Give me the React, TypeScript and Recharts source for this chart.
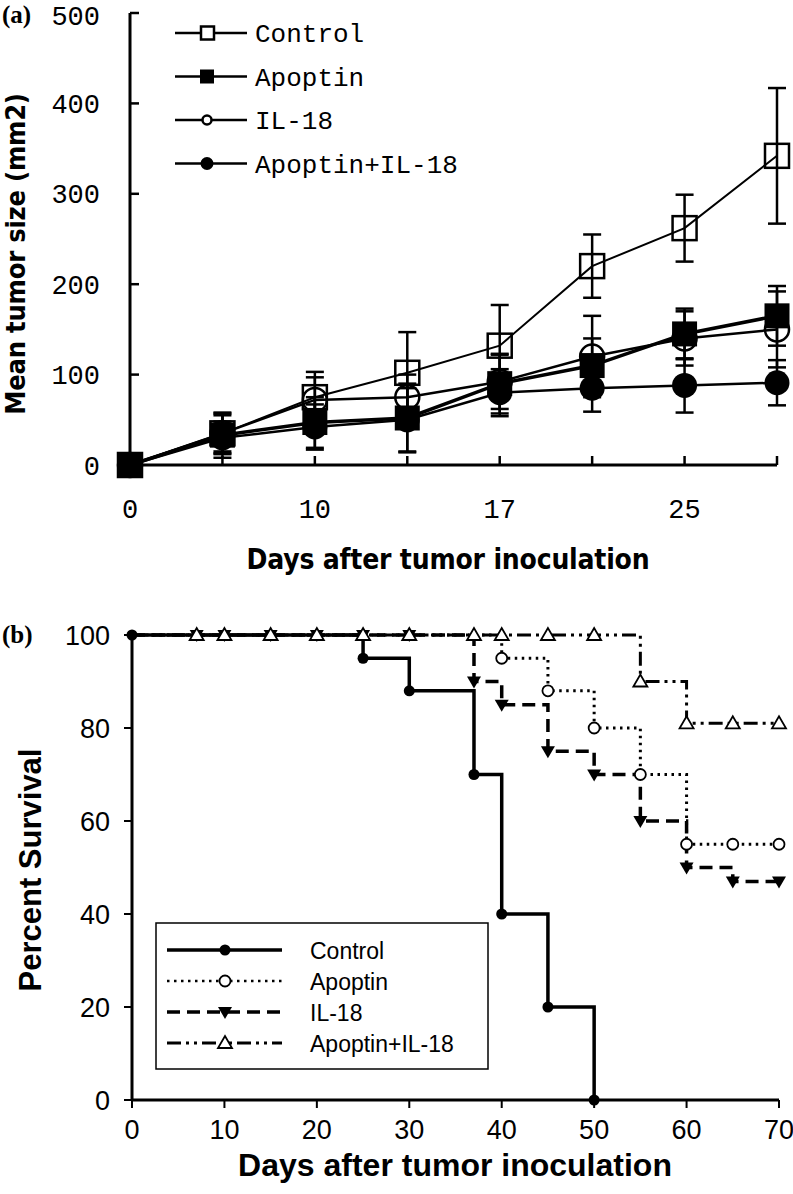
import React from 'react'
import { LineChart, Line, XAxis, YAxis, ErrorBar, Legend } from 'recharts'

// ---- panel (a): mean tumour size ----
const tumorDays = ['0', '5', '10', '14', '17', '21', '25', '28']
const tumorTicks = [0, 100, 200, 300, 400, 500]
const controlSize = [0, 35, 75, 102, 132, 220, 262, 342]
const controlErr = [0, 22, 28, 45, 45, 35, 37, 75]
const apoptinSize = [0, 33, 47, 52, 90, 110, 145, 165]
const apoptinErr = [0, 25, 28, 38, 33, 30, 28, 33]
const il18Size = [0, 35, 72, 75, 92, 120, 140, 150]
const il18Err = [0, 20, 25, 25, 30, 45, 30, 42]
const comboSize = [0, 30, 42, 50, 80, 85, 88, 91]
const comboErr = [0, 18, 25, 35, 26, 26, 30, 25]

// ---- panel (b): survival ----
const survTicksX = [0, 10, 20, 30, 40, 50, 60, 70]
const survTicksY = [0, 20, 40, 60, 80, 100]
const ctrlDays = [0, 25, 30, 37, 40, 45, 50]
const ctrlSurv = [100, 95, 88, 70, 40, 20, 0]
const apoDays = [0, 40, 45, 50, 55, 60, 65, 70]
const apoSurv = [100, 95, 88, 80, 70, 55, 55, 55]
const ilDays = [0, 7, 10, 15, 20, 25, 30, 37, 40, 45, 50, 55, 60, 65, 70]
const ilSurv = [100, 100, 100, 100, 100, 100, 100, 90, 85, 75, 70, 60, 50, 47, 47]
const comboDays = [0, 7, 10, 15, 20, 25, 30, 37, 40, 45, 50, 55, 60, 65, 70]
const comboSurv = [100, 100, 100, 100, 100, 100, 100, 100, 100, 100, 100, 90, 81, 81, 81]

const tumorData = tumorDays.map((d, i) => ({
  day: d,
  control: controlSize[i],
  controlErr: controlErr[i],
  apoptin: apoptinSize[i],
  apoptinErr: apoptinErr[i],
  il18: il18Size[i],
  il18Err: il18Err[i],
  combo: comboSize[i],
  comboErr: comboErr[i],
}))

const toRows = (days: number[], vals: number[]) => days.map((d, i) => ({ day: d, pct: vals[i] }))

const MONO = '"Liberation Mono", "DejaVu Sans Mono", monospace'
const ARIAL = '"Liberation Sans", Arial, sans-serif'
const COND = '"DejaVu Sans Condensed", "DejaVu Sans", sans-serif'

// markers, panel (a)
function openSquare(s: number) {
  return (p: any) => (
    <rect key={`os-${p.index}`} x={p.cx - s / 2} y={p.cy - s / 2} width={s} height={s} fill="none" stroke="#000" strokeWidth={2.5} />
  )
}
function fullSquare(s: number) {
  return (p: any) => (
    <rect key={`fs-${p.index}`} x={p.cx - s / 2} y={p.cy - s / 2} width={s} height={s} fill="#000" />
  )
}
function openCircle(r: number, w = 2.5) {
  return (p: any) => <circle key={`oc-${p.index}`} cx={p.cx} cy={p.cy} r={r} fill="none" stroke="#000" strokeWidth={w} />
}
function fullCircle(r: number) {
  return (p: any) => <circle key={`fc-${p.index}`} cx={p.cx} cy={p.cy} r={r} fill="#000" />
}

// markers, panel (b) – first point (day 0) carries no marker except control
function survDot(kind: string, skipFirst: boolean) {
  return (p: any) => {
    const k = `${kind}-${p.index}`
    if (skipFirst && p.index === 0) return <g key={k} />
    const { cx, cy } = p
    if (kind === 'ctrl') return <circle key={k} cx={cx} cy={cy} r={5.5} fill="#000" />
    if (kind === 'apo') return <circle key={k} cx={cx} cy={cy} r={5.5} fill="#fff" stroke="#000" strokeWidth={1.8} />
    if (kind === 'il')
      return <path key={k} d={`M${cx - 7},${cy - 5} L${cx + 7},${cy - 5} L${cx},${cy + 7} Z`} fill="#000" />
    return (
      <path key={k} d={`M${cx - 7},${cy + 5} L${cx + 7},${cy + 5} L${cx},${cy - 7} Z`} fill="#fff" stroke="#000" strokeWidth={1.8} />
    )
  }
}

const tumorLegendItems = [
  { name: 'Control', mark: 'os' },
  { name: 'Apoptin', mark: 'fs' },
  { name: 'IL-18', mark: 'oc' },
  { name: 'Apoptin+IL-18', mark: 'fc' },
]

function TumorLegend() {
  return (
    <svg width={300} height={170}>
      {tumorLegendItems.map((it, i) => {
        const y = 21 + i * 43.5
        return (
          <g key={it.name}>
            <line x1={15} x2={87} y1={y} y2={y} stroke="#000" strokeWidth={2.5} />
            {it.mark === 'os' && <rect x={41} y={y - 6.5} width={13} height={13} fill="#fff" stroke="#000" strokeWidth={2.5} />}
            {it.mark === 'fs' && <rect x={40} y={y - 7} width={14} height={14} fill="#000" />}
            {it.mark === 'oc' && <circle cx={47} cy={y} r={4.5} fill="#fff" stroke="#000" strokeWidth={2.5} />}
            {it.mark === 'fc' && <circle cx={47} cy={y} r={6.5} fill="#000" />}
            <text x={95} y={y + 9} fontFamily={MONO} fontSize={26} fill="#000">
              {it.name}
            </text>
          </g>
        )
      })}
    </svg>
  )
}

const survLegendItems = [
  { name: 'Control', kind: 'ctrl', dash: undefined, w: 3.5 },
  { name: 'Apoptin', kind: 'apo', dash: '2.5 4.5', w: 2.5 },
  { name: 'IL-18', kind: 'il', dash: '13 7', w: 3.5 },
  { name: 'Apoptin+IL-18', kind: 'combo', dash: '14 5 3 5 3 5', w: 3 },
]

function SurvivalLegend() {
  return (
    <svg width={335} height={150}>
      <rect x={1} y={1} width={332} height={146} fill="#fff" stroke="#000" strokeWidth={1.5} />
      {survLegendItems.map((it, i) => {
        const y = 28 + i * 31
        const dot = survDot(it.kind, false)
        return (
          <g key={it.name}>
            <line x1={12} x2={127} y1={y} y2={y} stroke="#000" strokeWidth={it.w} strokeDasharray={it.dash} />
            {dot({ cx: 70, cy: y, index: i })}
            <text x={155} y={y + 9} fontFamily={ARIAL} fontSize={23} fill="#000">
              {it.name}
            </text>
          </g>
        )
      })}
    </svg>
  )
}

const titleStyle: React.CSSProperties = {
  position: 'absolute',
  whiteSpace: 'nowrap',
  color: '#000',
  lineHeight: 1,
}

export default function App() {
  return (
    <div style={{ position: 'absolute', left: 0, top: 0, width: 793, height: 1194, background: '#fff', overflow: 'hidden' }}>
      {/* panel (a) */}
      <div style={{ position: 'absolute', left: 0, top: 0 }}>
        <LineChart width={793} height={594} data={tumorData} margin={{ top: 13, right: 16, bottom: 79, left: 70 }}>
          <XAxis
            dataKey="day"
            interval={0}
            tickFormatter={(v: string, i: number) => (i % 2 === 0 ? v : '')}
            height={50}
            axisLine={{ stroke: '#000', strokeWidth: 3 }}
            tickLine={{ stroke: '#000', strokeWidth: 2.5 }}
            tickSize={-9}
            tickMargin={43}
            tick={{ fontFamily: MONO, fontSize: 27, fill: '#000' }}
          />
          <YAxis
            domain={[0, 500]}
            ticks={tumorTicks}
            width={60}
            axisLine={{ stroke: '#000', strokeWidth: 3 }}
            tickLine={{ stroke: '#000', strokeWidth: 2.5 }}
            tickSize={-9}
            tickMargin={39}
            tick={{ fontFamily: MONO, fontSize: 27, fill: '#000' }}
          />
          <Legend
            layout="vertical"
            align="center"
            verticalAlign="middle"
            content={<TumorLegend />}
            wrapperStyle={{ left: 160, top: 12, width: 300, height: 170 }}
          />
          <Line dataKey="il18" name="IL-18" stroke="#000" strokeWidth={2.5} dot={openCircle(12)} isAnimationActive={false}>
            <ErrorBar dataKey="il18Err" width={9} stroke="#000" strokeWidth={2.5} direction="y" />
          </Line>
          <Line dataKey="combo" name="Apoptin+IL-18" stroke="#000" strokeWidth={2.5} dot={fullCircle(12.5)} isAnimationActive={false}>
            <ErrorBar dataKey="comboErr" width={9} stroke="#000" strokeWidth={2.5} direction="y" />
          </Line>
          <Line dataKey="apoptin" name="Apoptin" stroke="#000" strokeWidth={3.5} dot={fullSquare(25)} isAnimationActive={false}>
            <ErrorBar dataKey="apoptinErr" width={9} stroke="#000" strokeWidth={2.5} direction="y" />
          </Line>
          <Line dataKey="control" name="Control" stroke="#000" strokeWidth={2} dot={openSquare(24)} isAnimationActive={false}>
            <ErrorBar dataKey="controlErr" width={9} stroke="#000" strokeWidth={2.5} direction="y" />
          </Line>
        </LineChart>
      </div>
      <div style={{ ...titleStyle, left: 2, top: 2, fontFamily: '"Liberation Serif", serif', fontWeight: 'bold', fontSize: 25 }}>(a)</div>
      <div
        style={{
          ...titleStyle,
          left: 448,
          top: 560,
          transform: 'translate(-50%, -50%)',
          fontFamily: COND,
          fontWeight: 'bold',
          fontSize: 28,
          letterSpacing: -0.2,
        }}
      >
        Days after tumor inoculation
      </div>
      <div
        style={{
          ...titleStyle,
          left: 15,
          top: 254,
          transform: 'translate(-50%, -50%) rotate(-90deg)',
          fontFamily: COND,
          fontWeight: 'bold',
          fontSize: 27,
          letterSpacing: -0.2,
        }}
      >
        Mean tumor size (mm2)
      </div>

      {/* panel (b) */}
      <div style={{ position: 'absolute', left: 0, top: 596 }}>
        <LineChart width={793} height={598} margin={{ top: 39, right: 14, bottom: 54, left: 62 }}>
          <XAxis
            type="number"
            dataKey="day"
            domain={[0, 70]}
            ticks={survTicksX}
            allowDuplicatedCategory={false}
            height={40}
            axisLine={{ stroke: '#000', strokeWidth: 3 }}
            tickLine={{ stroke: '#000', strokeWidth: 2 }}
            tickSize={8}
            tickMargin={12}
            tick={{ fontFamily: ARIAL, fontSize: 27, fill: '#000' }}
          />
          <YAxis
            type="number"
            domain={[0, 100]}
            ticks={survTicksY}
            width={70}
            axisLine={{ stroke: '#000', strokeWidth: 3 }}
            tickLine={{ stroke: '#000', strokeWidth: 2 }}
            tickSize={8}
            tickMargin={14}
            tick={{ fontFamily: ARIAL, fontSize: 27, fill: '#000' }}
          />
          <Legend
            layout="vertical"
            align="center"
            verticalAlign="middle"
            content={<SurvivalLegend />}
            wrapperStyle={{ left: 155, top: 326, width: 335, height: 150 }}
          />
          <Line
            data={toRows(ctrlDays, ctrlSurv)}
            dataKey="pct"
            name="Control"
            type="stepAfter"
            stroke="#000"
            strokeWidth={3.5}
            dot={survDot('ctrl', false)}
            isAnimationActive={false}
          />
          <Line
            data={toRows(apoDays, apoSurv)}
            dataKey="pct"
            name="Apoptin"
            type="stepAfter"
            stroke="#000"
            strokeWidth={3}
            strokeDasharray="2.5 4.5"
            dot={survDot('apo', true)}
            isAnimationActive={false}
          />
          <Line
            data={toRows(ilDays, ilSurv)}
            dataKey="pct"
            name="IL-18"
            type="stepAfter"
            stroke="#000"
            strokeWidth={3.5}
            strokeDasharray="13 7"
            dot={survDot('il', true)}
            isAnimationActive={false}
          />
          <Line
            data={toRows(comboDays, comboSurv)}
            dataKey="pct"
            name="Apoptin+IL-18"
            type="stepAfter"
            stroke="#000"
            strokeWidth={3}
            strokeDasharray="14 5 3 5 3 5"
            dot={survDot('combo', true)}
            isAnimationActive={false}
          />
        </LineChart>
      </div>
      <div style={{ ...titleStyle, left: 2, top: 622, fontFamily: '"Liberation Serif", serif', fontWeight: 'bold', fontSize: 25 }}>(b)</div>
      <div
        style={{
          ...titleStyle,
          left: 455,
          top: 1165,
          transform: 'translate(-50%, -50%)',
          fontFamily: ARIAL,
          fontWeight: 'bold',
          fontSize: 32,
        }}
      >
        Days after tumor inoculation
      </div>
      <div
        style={{
          ...titleStyle,
          left: 30,
          top: 870,
          transform: 'translate(-50%, -50%) rotate(-90deg)',
          fontFamily: ARIAL,
          fontWeight: 'bold',
          fontSize: 31,
        }}
      >
        Percent Survival
      </div>
    </div>
  )
}
